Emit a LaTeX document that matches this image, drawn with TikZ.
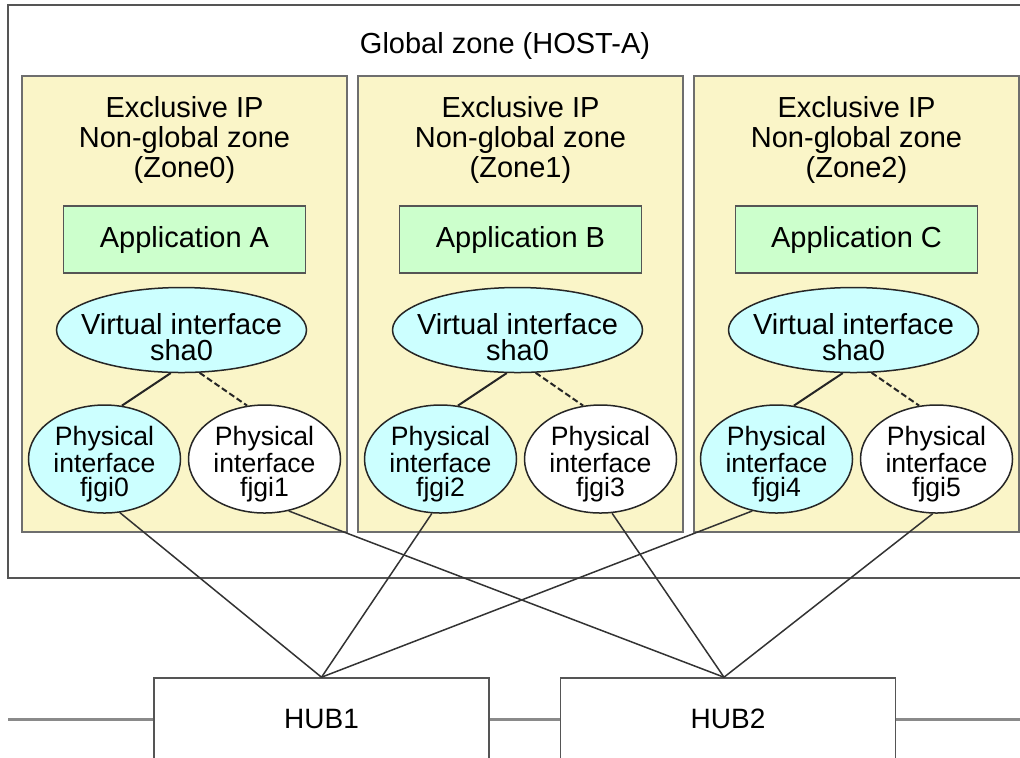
\documentclass[tikz,border=0pt]{standalone}
\usepackage{fontspec}
\setmainfont{Liberation Sans}
\usetikzlibrary{shapes.geometric}

\definecolor{zoneyellow}{HTML}{FAF5C8}
\definecolor{appgreen}{HTML}{CCFFCC}
\definecolor{ifcyan}{HTML}{CCFFFF}
\definecolor{framegray}{HTML}{555555}
\definecolor{langgray}{HTML}{8A8A8A}

\tikzset{
  zonebox/.style={draw=framegray!85, line width=1pt, fill=zoneyellow,
    minimum width=162.5pt, minimum height=228pt, inner sep=0pt},
  zonetitle/.style={align=center, font=\fontsize{14.5}{15}\selectfont, inner sep=0pt},
  appbox/.style={draw=framegray, line width=0.9pt, fill=appgreen,
    minimum width=121pt, minimum height=33.5pt, font=\fontsize{14.5}{15}\selectfont},
  virtif/.style={ellipse, draw=black!85, line width=0.75pt, fill=ifcyan, inner sep=0pt,
    minimum width=125pt, minimum height=42.5pt},
  virttext/.style={align=center, inner sep=0pt, font=\fontsize{14.5}{13.2}\selectfont},
  physif/.style={ellipse, draw=black!85, line width=0.75pt, inner sep=0pt,
    minimum width=76pt, minimum height=54pt},
  phystext/.style={align=center, inner sep=0pt, font=\fontsize{13.3}{12}\selectfont},
  hubbox/.style={draw=framegray, line width=0.8pt, fill=white,
    minimum width=167.5pt, minimum height=41pt, font=\fontsize{14}{15}\selectfont},
  link/.style={draw=black!80, line width=0.75pt},
  zonelink/.style={draw=black!85, line width=1pt},
  backup/.style={zonelink, dash pattern=on 3pt off 1.5pt},
  lanline/.style={draw=langgray, line width=1.5pt}
}

\begin{document}
\begin{tikzpicture}[x=0.5pt,y=-0.5pt]
    \clip (0,0) rectangle (1020,757);

    % Global zone
    \draw[framegray, line width=1pt] (8,5) rectangle (1040,578);
    \node[zonetitle] (global) at (505,46) {Global zone (HOST-A)};

    % Non-global zones
    \foreach \i/\x/\app in {0/184.5/A,1/520.5/B,2/856.5/C}{
        \pgfmathtruncatemacro{\pa}{2*\i}
        \pgfmathtruncatemacro{\pb}{2*\i+1}
        \node[zonebox] (zone\i) at (\x,304) {};
        \node[zonetitle] (title\i) at (\x,140) {Exclusive IP\\Non-global zone\\(Zone\i)};
        \node[appbox] (app\i) at (\x,239.5) {Application \app};
        \node[virtif] (sha\i) at (\x-3,330) {};
        \node[virttext] (sha\i text) at ([yshift=-3.5pt]sha\i) {Virtual interface\\sha0};
        \node[physif, fill=ifcyan] (fjgi\pa) at (\x-80,459) {};
        \node[phystext] (fjgi\pa text) at ([yshift=-2.5pt]fjgi\pa) {Physical\\interface\\fjgi\pa};
        \node[physif, fill=white] (fjgi\pb) at (\x+80,459) {};
        \node[phystext] (fjgi\pb text) at ([yshift=-2.5pt]fjgi\pb) {Physical\\interface\\fjgi\pb};
        \draw[zonelink] (sha\i.256) -- (fjgi\pa.72);
        \draw[backup] (sha\i.293) -- (fjgi\pb.108);
    }

    % HUBs
    \node[hubbox] (hub1) at (321.5,719) {HUB1};
    \node[hubbox] (hub2) at (728,719) {HUB2};
    \coordinate (lanL) at (8,719);
    \coordinate (lanR) at (1020,719);
    \draw[lanline] (lanL) -- (hub1.west);
    \draw[lanline] (hub1.east) -- (hub2.west);
    \draw[lanline] (hub2.east) -- (lanR);

    % Physical interfaces to HUBs
    \draw[link] (fjgi0.286) -- (hub1.north);
    \draw[link] (fjgi2.261) -- (hub1.north);
    \draw[link] (fjgi4.245) -- (hub1.north);
    \draw[link] (fjgi1.295) -- ([xshift=-2pt]hub2.north);
    \draw[link] (fjgi3.282) -- ([xshift=-2pt]hub2.north);
    \draw[link] (fjgi5.266) -- ([xshift=-2pt]hub2.north);
\end{tikzpicture}
\end{document}
